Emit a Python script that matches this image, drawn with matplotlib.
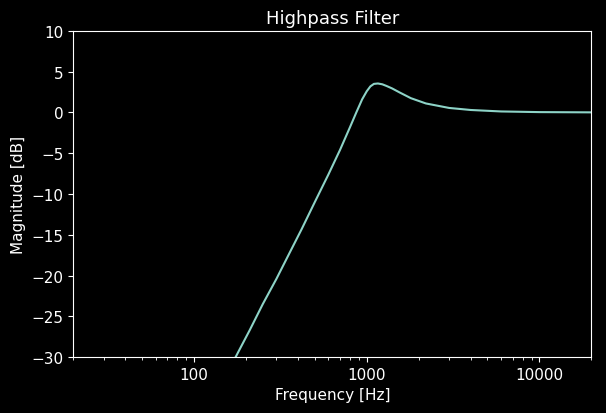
import matplotlib
matplotlib.use("Agg")
import matplotlib.pyplot as plt

plt.style.use("dark_background")
plt.rcParams["font.size"] = 11

# values
freq = [150, 174, 210, 250, 300, 350, 420, 500, 600, 700, 800, 870, 940,
        1000, 1050, 1100, 1160, 1230, 1300, 1400, 1550, 1800, 2200, 3000,
        4000, 6000, 10000, 20000]
mag = [-33.5, -30, -26.7, -23.5, -20.4, -17.6, -14.3, -11.0, -7.6, -4.6,
       -1.8, 0.0, 1.6, 2.6, 3.2, 3.5, 3.55, 3.45, 3.25, 2.95, 2.45, 1.75,
       1.1, 0.55, 0.3, 0.12, 0.04, 0.01]

fig = plt.figure(figsize=(6.06, 4.14), dpi=100)
ax = fig.add_axes([0.121, 0.135, 0.855, 0.788])
ax.semilogx(freq, mag)
ax.set_xlim(20, 20000)
ax.set_ylim(-30, 10)
ax.set_xticks([100, 1000, 10000])
ax.set_xticklabels(["100", "1000", "10000"])
ax.set_title("Highpass Filter", fontsize=13)
ax.set_xlabel("Frequency [Hz]")
ax.set_ylabel("Magnitude [dB]")
fig.savefig("out.png")
